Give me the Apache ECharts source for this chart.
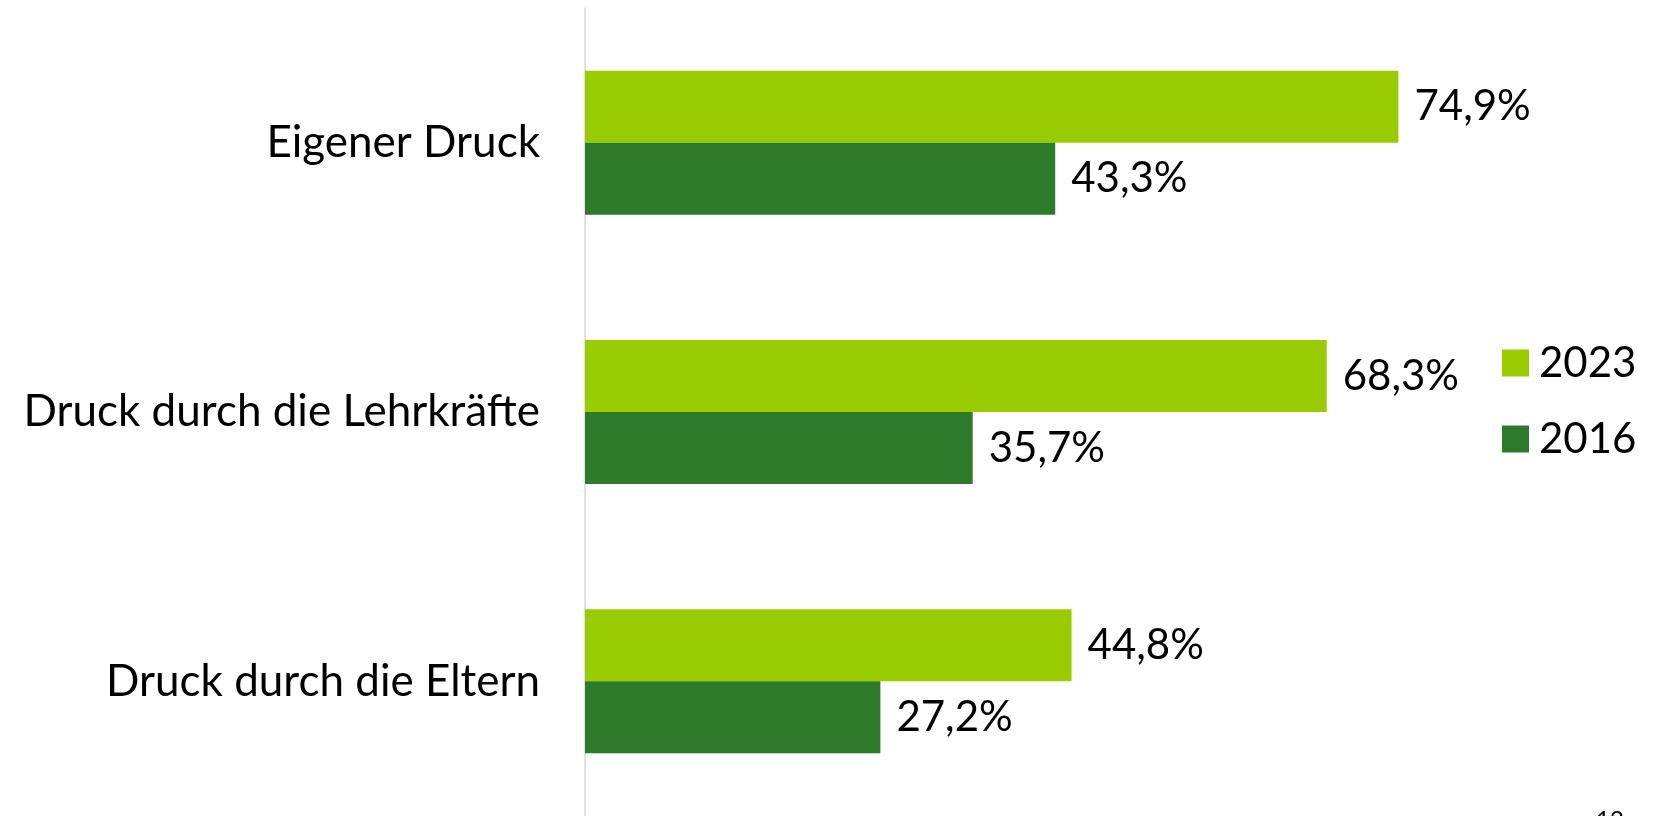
<!DOCTYPE html>
<html>
<head>
<meta charset="utf-8">
<script src="https://cdn.jsdelivr.net/npm/echarts@6/dist/echarts.min.js"></script>
<style>
html,body{margin:0;padding:0;background:#fff;}
#chart{width:1668px;height:816px;}
</style>
</head>
<body>
<div id="chart"></div>
<script>
const categories = ['Eigener Druck', 'Druck durch die Lehrkräfte', 'Druck durch die Eltern'];
const seriesNames = ['2023', '2016'];
const values2023 = [74.9, 68.3, 44.8];
const values2016 = [43.3, 35.7, 27.2];
const pageNumber = '12';

const FONT = 'Lato';
const chart = echarts.init(document.getElementById('chart'));
const fmt = p => p.value.toFixed(1).replace('.', ',') + '%';

chart.setOption({
  animation: false,
  backgroundColor: '#ffffff',
  textStyle: { fontFamily: FONT },
  grid: { left: 585, top: 8, width: 868.8, height: 815.5, containLabel: false },
  legend: {
    orient: 'vertical',
    left: 1497,
    top: 337,
    data: seriesNames,
    icon: 'rect',
    itemWidth: 27,
    itemHeight: 27,
    itemGap: 34,
    textStyle: { fontFamily: FONT, fontSize: 42, color: '#000', lineHeight: 40, padding: [0, 0, 0, 5] }
  },
  xAxis: {
    type: 'value', min: 0, max: 80,
    show: false
  },
  yAxis: {
    type: 'category',
    data: categories,
    inverse: true,
    axisLine: { show: true, lineStyle: { color: '#D9D9D9', width: 1.5 } },
    axisTick: { show: false },
    axisLabel: { fontFamily: FONT, fontSize: 44, color: '#000', margin: 45 }
  },
  series: [
    {
      name: '2023', type: 'bar', data: values2023,
      barWidth: 72, barGap: '0%',
      itemStyle: { color: '#99CC00' },
      label: { show: true, position: 'right', distance: 16, formatter: fmt,
               fontFamily: FONT, fontSize: 42, color: '#000' }
    },
    {
      name: '2016', type: 'bar', data: values2016,
      barWidth: 72, barGap: '0%',
      itemStyle: { color: '#2E7A2B' },
      label: { show: true, position: 'right', distance: 16, formatter: fmt,
               fontFamily: FONT, fontSize: 42, color: '#000' }
    }
  ],
  graphic: [{
    type: 'text', left: 1596, top: 808,
    style: { text: pageNumber, fontFamily: FONT, fontSize: 24, fill: '#000' }
  }]
});
</script>
</body>
</html>
